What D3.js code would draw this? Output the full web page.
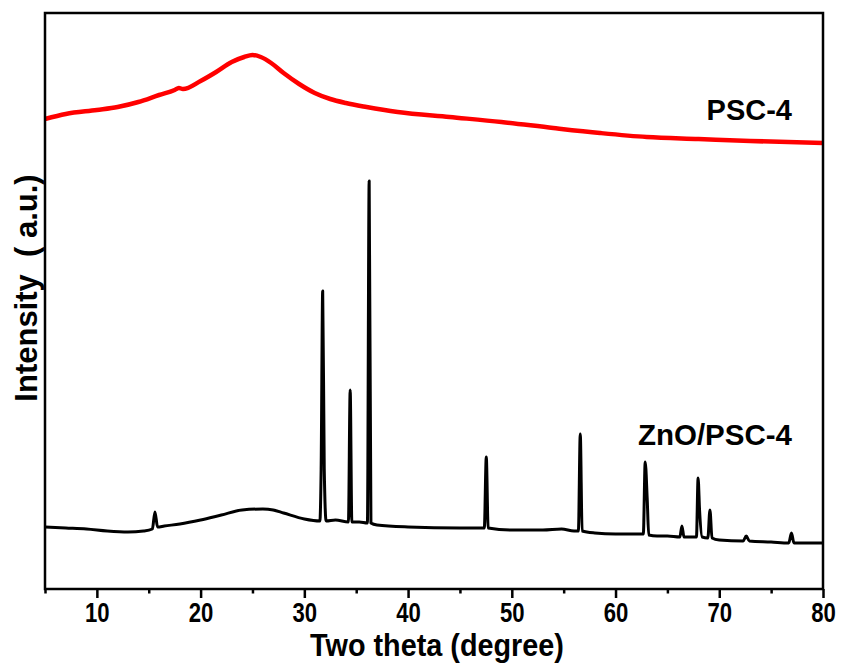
<!DOCTYPE html>
<html>
<head>
<meta charset="utf-8">
<script src="https://cdn.jsdelivr.net/npm/d3@7/dist/d3.min.js"></script>
<style>
  html, body { margin: 0; padding: 0; background: #fff; }
  svg { display: block; }
  text { font-family: "Liberation Sans", Arial, sans-serif; font-weight: bold; fill: #000; }
</style>
</head>
<body>
<script>
// ---- data (2θ in degree, intensity in a.u.) ----
const xTicks = [10, 20, 30, 40, 50, 60, 70, 80];
const xMinorTicks = [5, 15, 25, 35, 45, 55, 65, 75];

const pscX = [5, 7, 10, 12, 14, 16, 17.5, 17.9, 18.3, 20, 21.5, 23, 24.2, 25, 25.8, 26.8, 28, 29.5, 31, 32.5, 34, 36, 39, 44, 49, 54, 58.5, 63, 68, 73, 80];
const pscY = [470, 475, 479, 482, 487, 494, 499, 501, 500, 508, 517, 527, 532, 534, 532, 526, 516, 505, 496, 490, 486, 482, 477, 472, 467, 461, 456, 452, 450, 448, 446];

const znoX = [5, 7, 9, 11, 13, 14.5, 15.35, 15.6, 15.85, 16.5, 18, 20, 22, 24, 26, 27, 28, 30, 31.5,
  31.62, 31.77, 31.92, 32.1, 33, 34.25, 34.42, 34.58, 35.3, 36.08, 36.25, 36.42, 37,
  40, 45, 47.35, 47.54, 47.72, 50, 53, 54.8, 56.0, 56.42, 56.6, 56.78, 58, 60,
  62.68, 62.86, 63.05, 63.2, 64, 65, 66.2, 66.4, 66.6, 67.8, 67.96, 68.1, 68.35, 68.9, 69.1, 69.3, 70,
  72.3, 72.6, 72.9, 75, 76.7, 76.96, 77.2, 80];
const znoY = [62, 61, 60, 58, 57, 58, 60, 77, 62, 63, 65, 69, 74, 79, 80, 79, 76, 70, 68,
  120, 298, 120, 68, 69, 67, 199, 67, 67, 66, 408, 66, 64,
  62, 61, 61, 132, 61, 59, 59, 60, 58, 58, 155, 58, 56, 55,
  55, 127, 91, 54, 53, 53, 52, 63, 52, 52, 111, 79, 52, 51, 79, 51, 49,
  48, 53, 48, 47, 46, 56, 46, 46];

const labels = ["PSC-4", "ZnO/PSC-4"];

// ---- layout ----
const W = 842, H = 666;
const M = { left: 45, right: 823, top: 13, bottom: 589 };

const svg = d3.select("body").append("svg").attr("width", W).attr("height", H);

const x = d3.scaleLinear().domain([5, 80]).range([M.left, M.right]);
const y = d3.scaleLinear().domain([0, 576]).range([M.bottom, M.top]);

const line = d3.line().x(d => x(d[0])).y(d => y(d[1])).curve(d3.curveMonotoneX);

svg.append("path")
  .datum(znoX.map((v, i) => [v, znoY[i]]))
  .attr("d", line)
  .attr("fill", "none").attr("stroke", "#000").attr("stroke-width", 3)
  .attr("stroke-linejoin", "round");

svg.append("path")
  .datum(pscX.map((v, i) => [v, pscY[i]]))
  .attr("d", line)
  .attr("fill", "none").attr("stroke", "#ff0000").attr("stroke-width", 4.5)
  .attr("stroke-linejoin", "round");

// frame
svg.append("rect")
  .attr("x", M.left).attr("y", M.top)
  .attr("width", M.right - M.left).attr("height", M.bottom - M.top)
  .attr("fill", "none").attr("stroke", "#000").attr("stroke-width", 2.5);

// bottom axis: major ticks
const gx = svg.append("g").attr("transform", `translate(0,${M.bottom})`)
  .call(d3.axisBottom(x).tickValues(xTicks).tickSize(9).tickPadding(5).tickFormat(d3.format("d")));
gx.select(".domain").remove();
gx.selectAll(".tick line").attr("stroke", "#000").attr("stroke-width", 2.5);
gx.selectAll(".tick text")
  .style("font-size", "27px").style("font-weight", "bold")
  .attr("dy", "0.71em").attr("fill", "#000")
  .attr("transform", "scale(0.82,1)");

// minor ticks
const gm = svg.append("g").attr("transform", `translate(0,${M.bottom})`)
  .call(d3.axisBottom(x).tickValues(xMinorTicks).tickSize(4.5).tickFormat(""));
gm.select(".domain").remove();
gm.selectAll(".tick line").attr("stroke", "#000").attr("stroke-width", 2.5);

// axis titles
svg.append("text")
  .attr("transform", `translate(${(M.left + M.right) / 2 + 3}, 656) scale(0.9,1)`)
  .attr("text-anchor", "middle")
  .style("font-size", "32px")
  .text("Two theta (degree)");

svg.append("text")
  .attr("transform", `translate(37, 288) rotate(-90)`)
  .attr("text-anchor", "middle")
  .style("font-size", "31px")
  .text("Intensity\u00a0\u00a0(\u00a0a.u.)");

// series labels
svg.append("text")
  .attr("x", 792).attr("y", 120).attr("text-anchor", "end")
  .style("font-size", "29px")
  .text(labels[0]);

svg.append("text")
  .attr("x", 792).attr("y", 445).attr("text-anchor", "end")
  .style("font-size", "29.5px")
  .text(labels[1]);
</script>
</body>
</html>
